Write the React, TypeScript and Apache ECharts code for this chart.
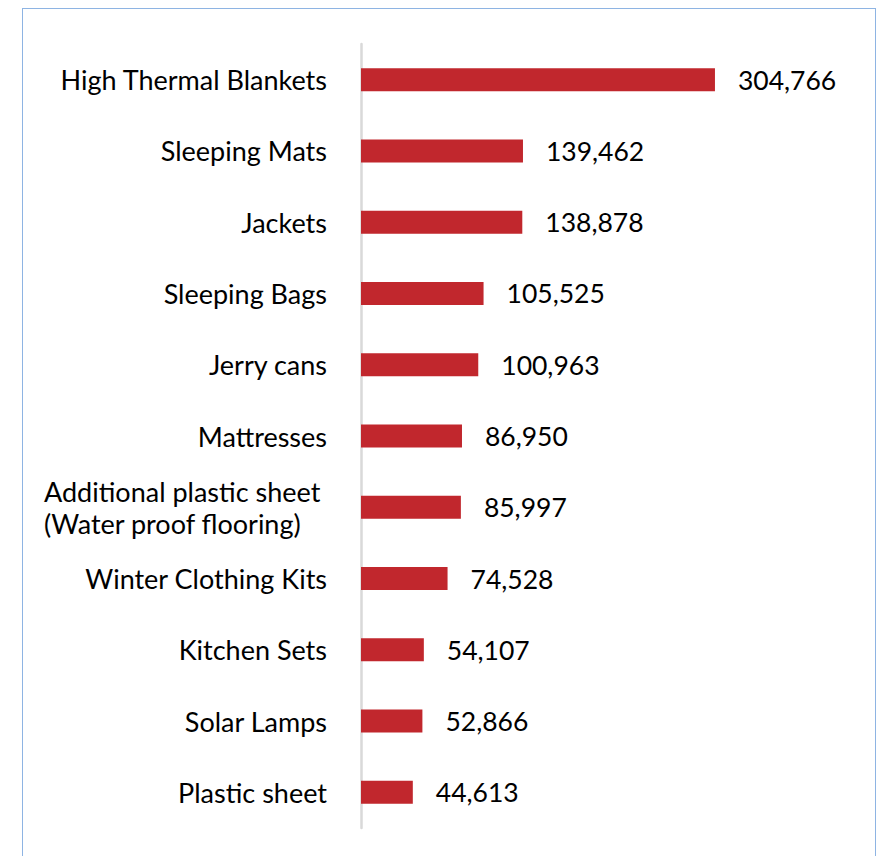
import React, { useEffect, useRef } from "react";
import * as echarts from "echarts";

const categories = [
  "High Thermal Blankets",
  "Sleeping Mats",
  "Jackets",
  "Sleeping Bags",
  "Jerry cans",
  "Mattresses",
  "Additional plastic sheet\n(Water proof flooring)",
  "Winter Clothing Kits",
  "Kitchen Sets",
  "Solar Lamps",
  "Plastic sheet",
];
const values = [304766, 139462, 138878, 105525, 100963, 86950, 85997, 74528, 54107, 52866, 44613];

export default function App() {
  const ref = useRef<HTMLDivElement>(null);
  useEffect(() => {
    if (!ref.current) return;
    const chart = echarts.init(ref.current, null, { renderer: "svg" });
    const font = "Lato, 'Noto Sans', sans-serif";
    chart.setOption({
      animation: false,
      grid: { left: 361, top: 44, width: 406.5, height: 784, containLabel: false },
      xAxis: {
        type: "value",
        min: 0,
        max: 350000,
        show: false,
        splitLine: { show: false },
      },
      yAxis: {
        type: "category",
        data: categories,
        inverse: true,
        axisLine: { show: true, lineStyle: { color: "#d9d9d9", width: 2.5 } },
        axisTick: { show: false },
        axisLabel: {
          margin: 34,
          color: "#000",
          fontFamily: font,
          fontSize: 27,
          lineHeight: 32,
          formatter: (v: string) => {
            if (v.indexOf("\n") >= 0) {
              return v
                .split("\n")
                .map((l) => "{m|" + l + "}")
                .join("\n");
            }
            return v;
          },
          rich: {
            m: {
              width: 283,
              align: "left",
              fontFamily: font,
              fontSize: 27,
              lineHeight: 32,
              color: "#000",
            },
          },
        },
      },
      series: [
        {
          type: "bar",
          data: values,
          barWidth: 23,
          itemStyle: { color: "#C1272D" },
          label: {
            show: true,
            position: "right",
            distance: 23,
            color: "#000",
            fontFamily: font,
            fontSize: 26.5,
            formatter: (p: any) => p.value.toLocaleString("en-US"),
          },
        },
      ],
    });
    return () => chart.dispose();
  }, []);
  return (
    <div style={{ position: "absolute", left: 0, top: 0, width: 880, height: 856, background: "#fff", overflow: "hidden" }}>
      <div
        style={{
          position: "absolute",
          left: 22,
          top: 8,
          width: 854,
          height: 870,
          border: "1px solid #8EB4E3",
          boxSizing: "border-box",
        }}
      />
      <div ref={ref} style={{ position: "absolute", left: 0, top: 0, width: 880, height: 856 }} />
    </div>
  );
}
